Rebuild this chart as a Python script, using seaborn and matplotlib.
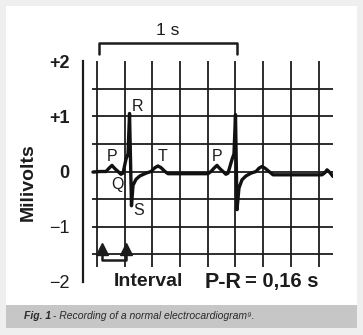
import matplotlib
matplotlib.use("Agg")
import matplotlib.pyplot as plt
from matplotlib.patches import Rectangle
import seaborn as sns

# ECG trace (time in s, voltage in mV)
ecg_time = [-0.029, 0.022, 0.065, 0.087, 0.108, 0.130, 0.152, 0.173, 0.188,
            0.209, 0.224, 0.235, 0.249, 0.260, 0.282, 0.310, 0.354, 0.390,
            0.419, 0.440, 0.462, 0.491, 0.513, 0.801, 0.823, 0.845, 0.866,
            0.888, 0.910, 0.931, 0.946, 0.975, 0.989, 1.000, 1.011, 1.025,
            1.047, 1.076, 1.112, 1.148, 1.170, 1.191, 1.213, 1.242, 1.271,
            1.625, 1.646, 1.661, 1.682, 1.704]
ecg_mv = [-0.01, 0.0, 0.0, 0.06, 0.11, 0.05, 0.0, -0.05, -0.03,
          0.22, 0.32, 1.05, -0.62, -0.25, -0.14, -0.08, -0.03, 0.0,
          0.07, 0.10, 0.07, 0.0, -0.04, -0.04, 0.0, 0.06, 0.11,
          0.05, 0.0, -0.05, -0.03, 0.22, 0.32, 1.03, -0.69, -0.30,
          -0.15, -0.08, -0.03, 0.0, 0.06, 0.09, 0.06, 0.0, -0.06,
          -0.06, -0.02, 0.03, -0.02, -0.09]

y_ticks = [2, 1, 0, -1, -2]
y_tick_labels = ["+2", "+1", "0", "\u22121", "\u22122"]
grid_times = [0.0, 0.2, 0.4, 0.6, 0.8, 1.0, 1.2, 1.4, 1.6]
grid_mv = [1.5, 1.0, 0.5, 0.0, -0.5, -1.0, -1.5]

# wave labels: (letter, time, mV)
wave_labels = [("P", 0.11, 0.27), ("Q", 0.15, -0.24), ("R", 0.29, 1.17),
               ("S", 0.30, -0.71), ("T", 0.47, 0.27), ("P", 0.87, 0.27)]

one_second = (0.014, 1.01)
pr_interval = (0.036, 0.209)

sns.set_style("white")
plt.rcParams["font.family"] = ["Liberation Sans", "DejaVu Sans"]

ink = "#1c1c1c"
fig = plt.figure(figsize=(3.63, 3.35), dpi=100, facecolor="#efefef")

# white panel and grey caption band
fig.patches.append(Rectangle((6 / 363, 1 - 305 / 335), 351 / 363, 299 / 335,
                             transform=fig.transFigure, facecolor="white",
                             edgecolor="none", zorder=-2))
fig.patches.append(Rectangle((6 / 363, 1 - 328 / 335), 351 / 363, 23 / 335,
                             transform=fig.transFigure, facecolor="#c6c6c6",
                             edgecolor="none", zorder=-2))

ax = fig.add_axes([83 / 363, 53 / 335, 250 / 363, 221 / 335])
ax.set_facecolor("none")
ax.set_xlim(-0.101, 1.704)
ax.set_ylim(-2, 2)

# paper grid
ax.vlines(grid_times, -1.72, 2.0, color=ink, lw=1.3, zorder=1)
ax.hlines(grid_mv, -0.036, 1.704, color=ink, lw=1.3, zorder=1)

sns.lineplot(x=ecg_time, y=ecg_mv, sort=False, estimator=None, ax=ax,
             color="#111111", lw=2.4, zorder=3)

for letter, t, v in wave_labels:
    ax.text(t, v, letter, ha="center", va="center", fontsize=11.5,
            color=ink, zorder=4)

# 1 s bracket
t0, t1 = one_second
ax.plot([t0, t0, t1, t1], [2.12, 2.33, 2.33, 2.12], color=ink, lw=1.8,
        clip_on=False)
ax.text((t0 + t1) / 2, 2.56, "1 s", ha="center", va="center", fontsize=12.5,
        color=ink)

# P-R interval arrows
p0, p1 = pr_interval
ax.plot([p0, p1], [-1.41, -1.41], marker="^", ms=8, ls="none", color=ink,
        zorder=4)
ax.plot([p0, p0, p1, p1], [-1.5, -1.61, -1.61, -1.5], color=ink, lw=1.8,
        zorder=4)
ax.text(0.123, -2.0, "Interval", ha="left", va="center", fontsize=14,
        fontweight="bold", color=ink, clip_on=False)
ax.text(0.78, -2.0, "P-R", ha="left", va="center", fontsize=15.5,
        fontweight="bold", color=ink, clip_on=False)
ax.text(1.072, -2.0, "= 0,16 s", ha="left", va="center", fontsize=14.5,
        fontweight="bold", color=ink, clip_on=False)

# left axis
for side in ["top", "right", "bottom"]:
    ax.spines[side].set_visible(False)
ax.spines["left"].set_linewidth(1.6)
ax.spines["left"].set_color(ink)
ax.set_xticks([])
ax.set_yticks(y_ticks)
ax.set_yticklabels(y_tick_labels)
ax.tick_params(axis="y", direction="out", length=7.5, width=1.6,
               color=ink, pad=2, labelsize=13, labelcolor=ink)
for lab in ax.get_yticklabels():
    lab.set_fontweight("bold" if lab.get_text()[0] in "+0" else "normal")
ax.set_ylabel("")

fig.text(28 / 363, 1 - 182 / 335, "Milivolts", rotation=90, ha="center",
         va="center", fontsize=14, fontweight="bold", color=ink)

# caption
fig.text(24 / 363, 1 - 316 / 335, "Fig. 1", fontsize=7.5, fontweight="bold",
         fontstyle="italic", color="#2a2a2a", va="center")
fig.text(50 / 363, 1 - 316 / 335,
         " - Recording of a normal electrocardiogram\u2079.", fontsize=7.5,
         fontstyle="italic", color="#2a2a2a", va="center")

fig.savefig("out.png", dpi=100, facecolor=fig.get_facecolor())
